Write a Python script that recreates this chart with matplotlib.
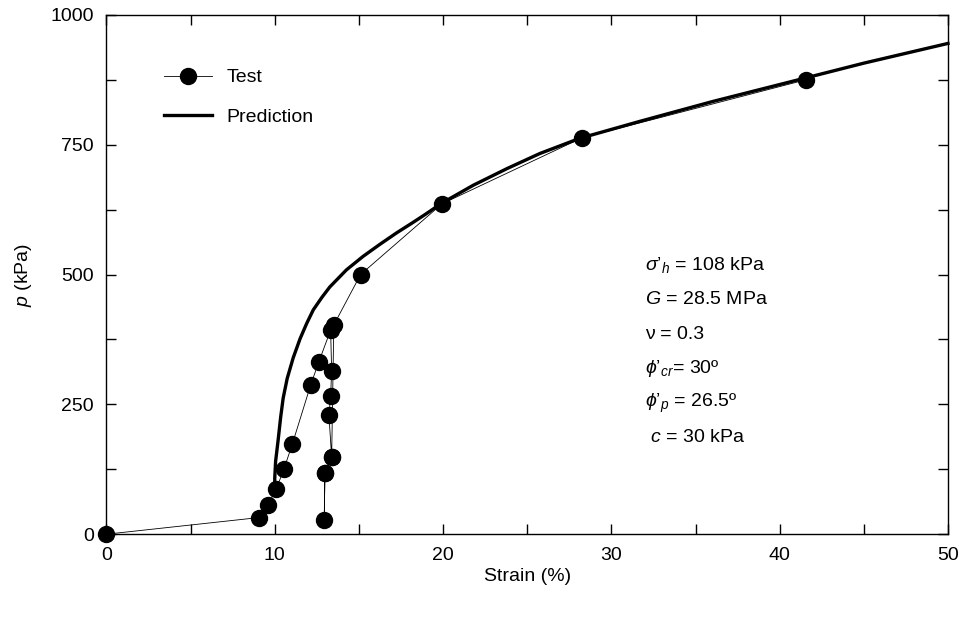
import matplotlib
matplotlib.use("Agg")
import matplotlib.pyplot as plt
from matplotlib.ticker import MultipleLocator

plt.rcParams['font.family'] = ['Liberation Sans', 'DejaVu Sans']
plt.rcParams['mathtext.fontset'] = 'custom'
plt.rcParams['mathtext.rm'] = 'Liberation Sans'
plt.rcParams['mathtext.it'] = 'Liberation Sans:italic'

# Test data (strain %, p kPa) in loading order
test_strain = [0, 9.05, 9.59, 10.09, 10.54, 11.04, 12.13, 12.62, 13.32, 13.38, 13.32,
               13.22, 13.38, 12.98, 12.94, 12.98, 13.38, 13.51, 15.1, 19.93, 28.24, 41.56]
test_p = [0, 32, 56, 87, 125, 173, 287, 332, 393, 314, 266,
          229, 148, 118, 27, 118, 148, 403, 500, 636, 763, 875]

# Prediction curve
pred_strain = [10.0, 10.0, 10.05, 10.2, 10.35, 10.5, 10.74, 11.1, 11.5, 11.9, 12.29, 12.8,
               13.27, 14.26, 15.25, 16.24, 17.23, 18.2, 19.0, 19.9, 21.8, 23.8, 25.75,
               28.1, 31.7, 36.0, 41.6, 45.0, 50.0]
pred_p = [100, 108, 140, 181, 225, 262, 300, 340, 376, 406, 432, 456,
          476, 509, 535, 558, 580, 600, 617, 637, 672, 704, 733,
          762, 795, 833, 879, 907, 945]

params = ["$\\sigma\u2019_h$ = 108 kPa", r"$G$ = 28.5 MPa", "ν = 0.3",
          "$\\phi\u2019_{cr}$= 30º", "$\\phi\u2019_p$ = 26.5º", r" $c$ = 30 kPa"]

FS = 14

fig = plt.figure(figsize=(9.59, 6.19), dpi=100)
ax = fig.add_axes([0.111, 0.137, 0.8775, 0.839])

ax.plot(test_strain, test_p, color='black', lw=0.6, marker='o', ms=11.5,
        markerfacecolor='black', markeredgecolor='black', label='Test')
ax.plot(pred_strain, pred_p, color='black', lw=2.4, label='Prediction')

ax.set_xlim(0, 50)
ax.set_ylim(0, 1000)
ax.xaxis.set_major_locator(MultipleLocator(10))
ax.xaxis.set_minor_locator(MultipleLocator(5))
ax.yaxis.set_major_locator(MultipleLocator(250))
ax.yaxis.set_minor_locator(MultipleLocator(125))
ax.tick_params(which='both', direction='in', top=True, right=True, labelsize=FS,
               length=7, width=1.0)
ax.tick_params(axis='y', pad=9)
ax.tick_params(axis='x', pad=9)
for s in ax.spines.values():
    s.set_linewidth(1.0)
for line in ax.lines:
    line.set_clip_on(False)

ax.set_xlabel('Strain (%)', fontsize=FS, labelpad=3)
ax.set_ylabel(r'$p$ (kPa)', fontsize=FS, labelpad=12)

ax.legend(loc='upper left', bbox_to_anchor=(0.048, 0.93), frameon=False,
          fontsize=FS, handlelength=2.45, labelspacing=1.15, handletextpad=0.75)

y0 = 518
for i, t in enumerate(params):
    ax.text(32.0, y0 - i * 66.5, t, fontsize=FS, va='center', ha='left')

fig.savefig('out.png', dpi=100)
